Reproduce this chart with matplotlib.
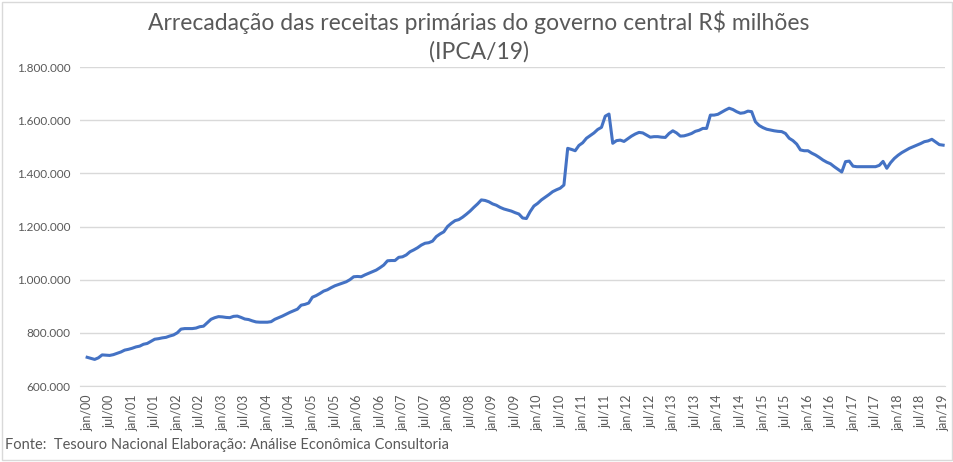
import matplotlib
matplotlib.use("Agg")
import matplotlib.pyplot as plt
from matplotlib.ticker import FuncFormatter
from matplotlib.patches import Rectangle

plt.rcParams['font.family'] = ['Lato', 'DejaVu Sans']

# arrecadacao mensal, R$ milhoes (IPCA/19), jan/00 .. jan/19 (em milhares de milhoes)
receita_mil = [
    708, 704, 700, 706, 717, 716, 715, 718, 723, 728, 735, 738,              # 2000
    742, 747, 750, 757, 760, 768, 776, 778, 781, 783, 788, 792,              # 2001
    800, 814, 816, 816, 816, 818, 823, 825, 838, 851, 857, 861,              # 2002
    860, 858, 857, 862, 863, 858, 852, 850, 845, 841, 840, 840,              # 2003
    840, 842, 851, 857, 863, 870, 877, 883, 889, 904, 907, 912,              # 2004
    934, 940, 948, 957, 962, 970, 977, 982, 987, 992, 1000, 1011,            # 2005
    1012, 1011, 1018, 1024, 1030, 1036, 1045, 1055, 1071, 1072, 1072, 1084,  # 2006
    1086, 1093, 1105, 1112, 1120, 1130, 1137, 1139, 1145, 1162, 1172, 1180,  # 2007
    1200, 1212, 1222, 1226, 1235, 1246, 1258, 1272, 1285, 1300, 1298, 1293,  # 2008
    1285, 1280, 1272, 1266, 1262, 1258, 1252, 1247, 1232, 1230, 1256, 1277,  # 2009
    1287, 1300, 1310, 1320, 1331, 1338, 1344, 1356, 1494, 1490, 1485, 1505,  # 2010
    1515, 1532, 1542, 1552, 1565, 1573, 1615, 1623, 1513, 1523, 1525, 1520,  # 2011
    1530, 1540, 1548, 1554, 1552, 1544, 1536, 1538, 1538, 1536, 1535, 1550,  # 2012
    1560, 1552, 1540, 1541, 1545, 1550, 1558, 1562, 1569, 1569, 1619, 1619,  # 2013
    1622, 1630, 1638, 1645, 1640, 1632, 1626, 1628, 1634, 1632, 1594, 1580,  # 2014
    1572, 1566, 1563, 1560, 1558, 1557, 1550, 1532, 1523, 1510, 1488, 1485,  # 2015
    1485, 1476, 1469, 1460, 1450, 1442, 1436, 1425, 1415, 1405, 1444, 1446,  # 2016
    1427, 1425, 1425, 1425, 1425, 1425, 1425, 1430, 1445, 1419, 1440, 1456,  # 2017
    1468, 1478, 1486, 1494, 1500, 1506, 1512, 1519, 1522, 1528, 1518, 1508,  # 2018
    1506,                                                                    # 2019
]
receita = [v * 1000 for v in receita_mil]

anos = list(range(2000, 2020))
rotulos = []
for a in anos:
    rotulos.append("jan/%02d" % (a % 100))
    if a < 2019:
        rotulos.append("jul/%02d" % (a % 100))

cinza = "#595959"

fig = plt.figure(figsize=(9.54, 4.62), dpi=100)
ax = fig.add_axes([80 / 954, 1 - 386 / 462, (945 - 80) / 954, (386 - 67) / 462])

ax.plot(range(len(receita)), receita, color="#4472C4", linewidth=2.2, solid_joinstyle="round")

ax.set_xlim(-1.9, len(receita) - 0.5)
ax.set_ylim(600000, 1800000)
ax.set_yticks(range(600000, 1800001, 200000))
ax.yaxis.set_major_formatter(FuncFormatter(lambda v, p: "{:,.0f}".format(v).replace(",", ".")))
ax.set_xticks(range(0, len(receita), 6))
ax.set_xticklabels(rotulos, rotation=90)

ax.grid(axis="y", color="#D9D9D9", linewidth=1)
ax.set_axisbelow(True)
for s in ["top", "right", "left"]:
    ax.spines[s].set_visible(False)
ax.spines["bottom"].set_color("#D9D9D9")
ax.tick_params(axis="both", length=0, colors=cinza, labelsize=8.5)
ax.tick_params(axis="x", labelsize=9, pad=6)
ax.tick_params(axis="y", pad=7)

fig.text(0.502, 0.978, "Arrecadação das receitas primárias do governo central R$ milhões\n(IPCA/19)",
         ha="center", va="top", fontsize=16.5, color=cinza, linespacing=1.45)
fig.text(5 / 954, 1 - 445 / 462, "Fonte:  Tesouro Nacional Elaboração: Análise Econômica Consultoria",
         ha="left", va="center", fontsize=10.5, color=cinza)

fig.patches.append(Rectangle((0.002, 0.004), 0.996, 0.992, transform=fig.transFigure,
                             fill=False, edgecolor="#D9D9D9", linewidth=1))

fig.savefig("out.png", dpi=100)
